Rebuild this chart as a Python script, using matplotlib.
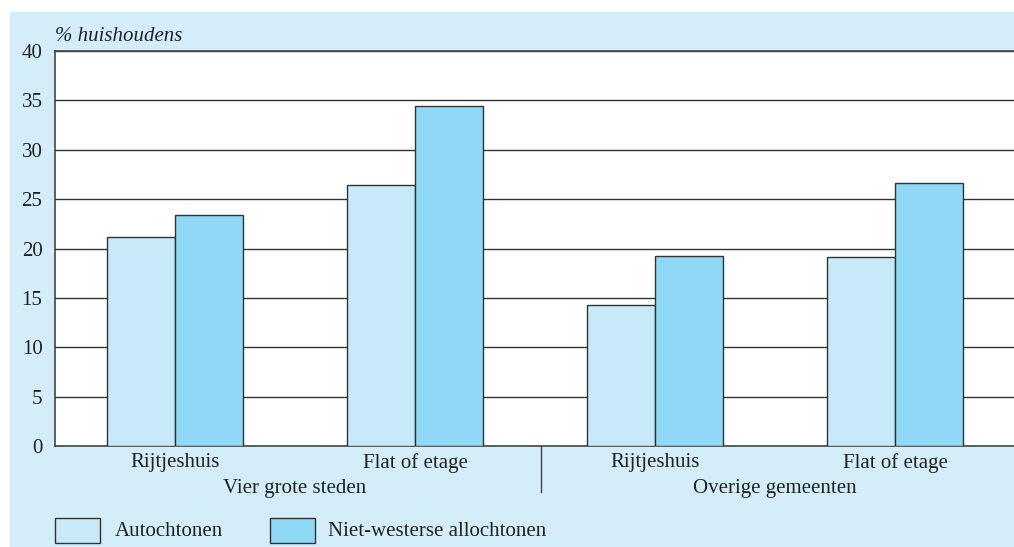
import matplotlib
matplotlib.use("Agg")
import matplotlib.pyplot as plt
from matplotlib.patches import Rectangle
import numpy as np

categories = ["Rijtjeshuis", "Flat of etage", "Rijtjeshuis", "Flat of etage"]
groups = ["Vier grote steden", "Overige gemeenten"]
series_names = ["Autochtonen", "Niet-westerse allochtonen"]
autochtonen = [21.2, 26.4, 14.3, 19.1]
niet_westers = [23.4, 34.4, 19.2, 26.6]
yticks = [0, 5, 10, 15, 20, 25, 30, 35, 40]

W, H = 1014, 547
fig = plt.figure(figsize=(W / 100, H / 100), dpi=100)
fig.patch.set_facecolor("white")
bg = "#D3EDF9"
fig.patches.append(Rectangle((10 / W, 0), 1 - 10 / W, (H - 12) / H,
                             transform=fig.transFigure, facecolor=bg,
                             edgecolor="none", zorder=-10))

font = ["Liberation Serif", "DejaVu Serif"]
FS = 15
ax = fig.add_axes([55 / W, (H - 446) / H, 960 / W, (446 - 51) / H])
ax.set_facecolor("white")

x = np.arange(len(categories))
bw = 0.285
c1, c2 = "#C8E9F8", "#8FD8F6"
ec = "#333333"
ax.bar(x - bw / 2, autochtonen, bw, color=c1, edgecolor=ec, linewidth=1, zorder=3)
ax.bar(x + bw / 2, niet_westers, bw, color=c2, edgecolor=ec, linewidth=1, zorder=3)

ax.set_xlim(-0.5, 3.5)
ax.set_ylim(0, 40)
ax.set_yticks(yticks)
ax.set_yticklabels([str(t) for t in yticks], fontsize=15, family=font, color="#222222")
ax.tick_params(axis="y", length=0, pad=9)
ax.set_xticks(x)
ax.set_xticklabels(categories, fontsize=FS, family=font, color="#222222")
ax.tick_params(axis="x", length=0, pad=5)
for t in yticks[1:]:
    ax.axhline(t, color="#333333", linewidth=1, zorder=1)
ax.spines["right"].set_visible(False)
for s in ["left", "top", "bottom"]:
    ax.spines[s].set_color("#444444")
    ax.spines[s].set_linewidth(1.2)

# group labels and separator
for i, g in enumerate(groups):
    ax.text(0.5 + 2 * i, -4.35, g, ha="center", va="center", fontsize=FS,
            family=font, color="#222222")
ax.plot([1.525, 1.525], [0, -4.7], color="#444444", linewidth=1, clip_on=False)

ax.text(0, 41.45, "% huishoudens", ha="left", va="center", fontsize=FS,
        style="italic", family=font, color="#222222", transform=ax.get_yaxis_transform())

# legend
fig.patches.append(Rectangle((55 / W, (H - 543) / H), 45 / W, 25 / H,
                             transform=fig.transFigure, facecolor=c1,
                             edgecolor=ec, linewidth=1, zorder=2))
fig.patches.append(Rectangle((270 / W, (H - 543) / H), 45 / W, 25 / H,
                             transform=fig.transFigure, facecolor=c2,
                             edgecolor=ec, linewidth=1, zorder=2))
fig.text(115 / W, (H - 531) / H, series_names[0], ha="left", va="center",
         fontsize=FS, family=font, color="#222222")
fig.text(328 / W, (H - 531) / H, series_names[1], ha="left", va="center",
         fontsize=FS, family=font, color="#222222")

fig.savefig("out.png", dpi=100, facecolor=fig.get_facecolor())
